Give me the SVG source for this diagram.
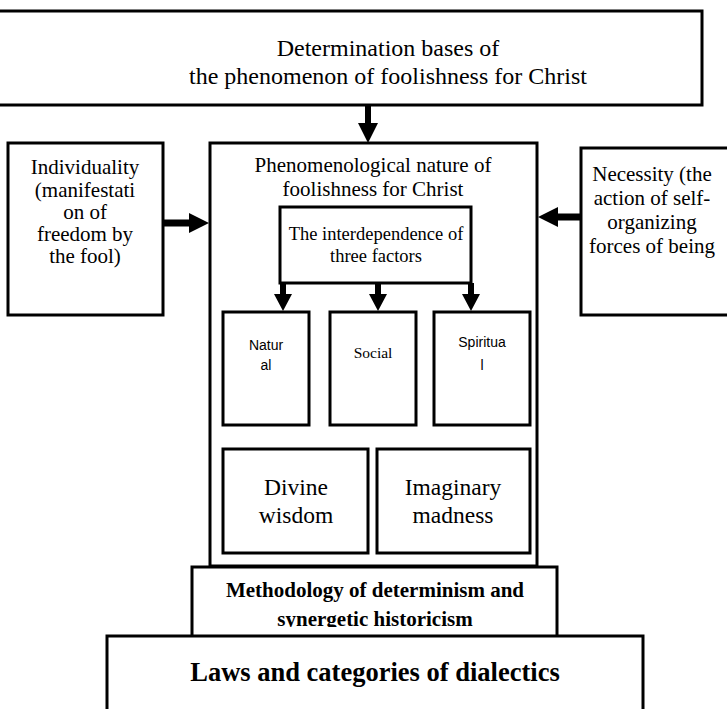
<svg xmlns="http://www.w3.org/2000/svg" width="727" height="709" viewBox="0 0 727 709">
<style>
.box{fill:#fff;stroke:#000;stroke-width:3}
.t{font-family:"Liberation Serif","Times New Roman",serif;fill:#000;text-anchor:middle}
.s{font-family:"Liberation Sans",Arial,sans-serif;fill:#000;text-anchor:middle}
.b{font-weight:bold}
</style>
<defs>
<clipPath id="mclip"><rect x="190" y="565" width="370" height="62"/></clipPath>
</defs>
<rect width="727" height="709" fill="#fff"/>
<g id="top">
<rect class="box" x="-10" y="11" width="712" height="94"/>
<text class="t" x="388" y="56" font-size="24">Determination bases of</text>
<text class="t" x="388" y="84" font-size="24">the phenomenon of foolishness for Christ</text>
</g>
<g id="individuality">
<rect class="box" x="8" y="143" width="155" height="172"/>
<text class="t" x="85" y="174" font-size="21">Individuality</text>
<text class="t" x="85" y="197" font-size="21">(manifestati</text>
<text class="t" x="85" y="219" font-size="21">on of</text>
<text class="t" x="85" y="241" font-size="21">freedom by</text>
<text class="t" x="85" y="263" font-size="21">the fool)</text>
</g>
<g id="necessity">
<rect class="box" x="581" y="148" width="160" height="167"/>
<text class="t" x="652" y="181" font-size="21">Necessity (the</text>
<text class="t" x="652" y="205" font-size="21">action of self-</text>
<text class="t" x="652" y="229" font-size="21">organizing</text>
<text class="t" x="652" y="253" font-size="21">forces of being</text>
</g>
<g id="phenomenological">
<rect class="box" x="210" y="143" width="327" height="423"/>
<text class="t" x="373" y="172" font-size="21">Phenomenological nature of</text>
<text class="t" x="373" y="196" font-size="21">foolishness for Christ</text>
</g>
<g id="interdependence">
<rect class="box" x="280" y="207" width="191" height="76"/>
<text class="t" x="376" y="240" font-size="18.5">The interdependence of</text>
<text class="t" x="376" y="262" font-size="18.5">three factors</text>
</g>
<g id="natural">
<rect class="box" x="223" y="312" width="86" height="113"/>
<text class="s" x="266" y="350" font-size="14">Natur</text>
<text class="s" x="266" y="370" font-size="14">al</text>
</g>
<g id="social">
<rect class="box" x="330" y="312" width="86" height="113"/>
<text class="t" x="373" y="358" font-size="15.5">Social</text>
</g>
<g id="spiritual">
<rect class="box" x="434" y="312" width="96" height="113"/>
<text class="s" x="482" y="347" font-size="14">Spiritua</text>
<text class="s" x="482" y="370" font-size="14">l</text>
</g>
<g id="divine">
<rect class="box" x="223" y="449" width="145" height="104"/>
<text class="t" x="296" y="495" font-size="23.5">Divine</text>
<text class="t" x="296" y="523" font-size="23.5">wisdom</text>
</g>
<g id="imaginary">
<rect class="box" x="377" y="449" width="153" height="104"/>
<text class="t" x="453" y="495" font-size="23.5">Imaginary</text>
<text class="t" x="453" y="523" font-size="23.5">madness</text>
</g>
<g id="methodology">
<rect class="box" x="192" y="567" width="365" height="90"/>
<g clip-path="url(#mclip)">
<text class="t b" x="375" y="597" font-size="21">Methodology of determinism and</text>
<text class="t b" x="375" y="626" font-size="21">synergetic historicism</text>
</g>
</g>
<g id="laws">
<rect class="box" x="107" y="636" width="536" height="90"/>
<text class="t b" x="375" y="681" font-size="26.5">Laws and categories of dialectics</text>
</g>
<g id="connectors" fill="#000">
<polygon points="365,105 371,105 371,123 378,123 368,143 358,123 365,123"/>
<polygon points="163,219.5 189,219.5 189,213 209,223 189,233 189,226.5 163,226.5"/>
<polygon points="581,213.5 558,213.5 558,207 538,217 558,227 558,220.5 581,220.5"/>
<polygon points="280,283 286,283 286,294 292,294 283,311 274,294 280,294"/>
<polygon points="375,283 381,283 381,294 387,294 378,311 369,294 375,294"/>
<polygon points="468,283 474,283 474,294 480,294 471,311 462,294 468,294"/>
</g>
</svg>
